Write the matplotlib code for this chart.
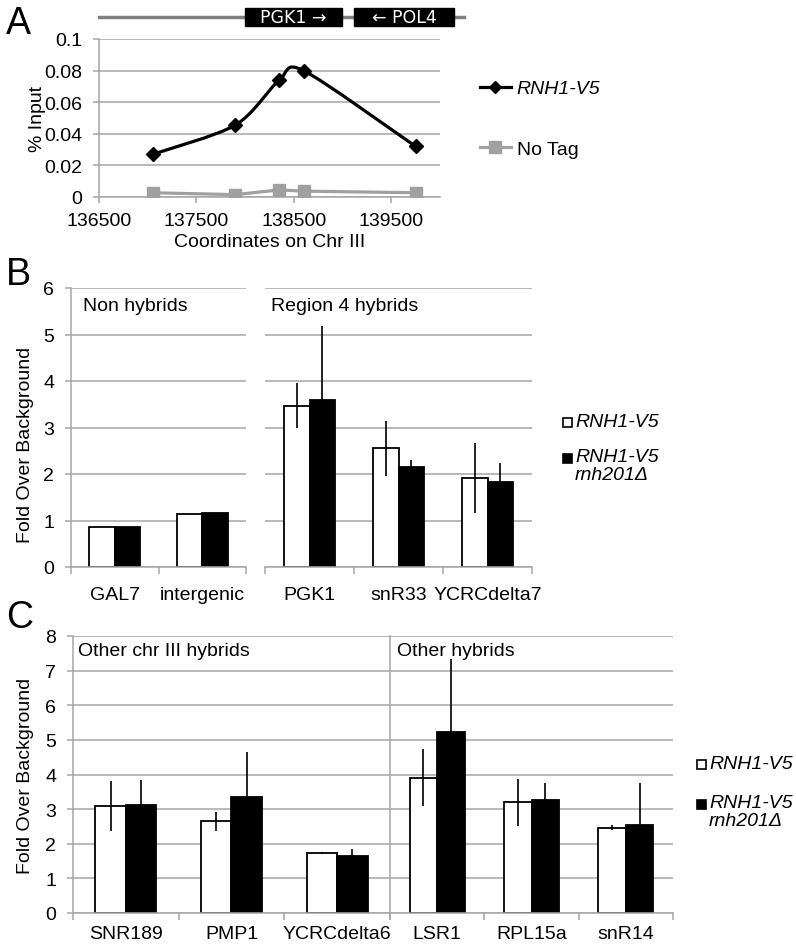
import numpy as np
import matplotlib
matplotlib.use('Agg')
import matplotlib.pyplot as plt
from matplotlib.path import Path
from matplotlib.patches import PathPatch, Rectangle
from matplotlib.lines import Line2D
from matplotlib.transforms import blended_transform_factory

plt.rcParams['font.family'] = ['Liberation Sans', 'DejaVu Sans']
plt.rcParams['font.size'] = 14

# ---- panel A data
coords = [137050, 137900, 138350, 138600, 139750]
rnh1_v5 = [0.027, 0.0455, 0.074, 0.080, 0.032]
no_tag = [0.0027, 0.0015, 0.0045, 0.0037, 0.0027]
genes = [('PGK1 \u2192', 138000, 138990), ('\u2190 POL4', 139120, 140140)]
track = [136500, 140250]

# ---- panel B data
non_cats = ['GAL7', 'intergenic']
non_wt = [0.85, 1.15]
non_wt_err = [0.0, 0.0]
non_mut = [0.86, 1.16]
non_mut_err = [0.0, 0.0]

reg4_cats = ['PGK1', 'snR33', 'YCRCdelta7']
reg4_wt = [3.47, 2.55, 1.91]
reg4_wt_err = [0.48, 0.60, 0.75]
reg4_mut = [3.59, 2.15, 1.82]
reg4_mut_err = [1.59, 0.16, 0.41]

# ---- panel C data
chr3_cats = ['SNR189', 'PMP1', 'YCRCdelta6']
chr3_wt = [3.08, 2.65, 1.73]
chr3_wt_err = [0.72, 0.28, 0.04]
chr3_mut = [3.13, 3.34, 1.65]
chr3_mut_err = [0.72, 1.32, 0.21]

other_cats = ['LSR1', 'RPL15a', 'snR14']
other_wt = [3.91, 3.20, 2.46]
other_wt_err = [0.82, 0.68, 0.07]
other_mut = [5.24, 3.25, 2.54]
other_mut_err = [2.09, 0.51, 1.21]

W, H = 796, 945
GRID = '#a6a6a6'
fig = plt.figure(figsize=(W / 100, H / 100), dpi=100)


def box(x0, y0, x1, y1):
    # pixel box (top-left origin) -> figure fraction rect
    return [x0 / W, 1 - y1 / H, (x1 - x0) / W, (y1 - y0) / H]


def smooth_path(xs, ys, k=6.0):
    # catmull-rom style bezier through the points (like excel smoothed lines)
    pts = np.column_stack([xs, ys]).astype(float)
    verts = [pts[0]]
    codes = [Path.MOVETO]
    n = len(pts)
    for i in range(n - 1):
        p0 = pts[i - 1] if i > 0 else pts[i]
        p1, p2 = pts[i], pts[i + 1]
        p3 = pts[i + 2] if i + 2 < n else pts[i + 1]
        verts += [p1 + (p2 - p0) / k, p2 - (p3 - p1) / k, p2]
        codes += [Path.CURVE4] * 3
    return Path(verts, codes)


def style_axis(ax, ymax, left_spine=True):
    ax.set_ylim(0, ymax)
    ax.set_yticks(range(0, ymax + 1))
    ax.yaxis.grid(True, color=GRID, lw=1.1)
    ax.set_axisbelow(True)
    for s in ['top', 'right']:
        ax.spines[s].set_visible(False)
    ax.spines['bottom'].set_color(GRID)
    ax.spines['bottom'].set_linewidth(1.1)
    if left_spine:
        ax.spines['left'].set_color(GRID)
        ax.spines['left'].set_linewidth(1.1)
        ax.tick_params(axis='y', color=GRID, length=4, width=1.1, pad=8)
    else:
        ax.spines['left'].set_visible(False)
        ax.tick_params(axis='y', left=False, labelleft=False)


def bar_group(ax, cats, wt, wt_err, mut, mut_err, ymax, title, left_spine, title_x, title_y, pad):
    x = np.arange(len(cats))
    w = 0.29
    ax.bar(x - w / 2, wt, w, color='white', edgecolor='black', lw=1.3, zorder=2)
    ax.bar(x + w / 2, mut, w, color='black', edgecolor='black', lw=1.3, zorder=2)
    ax.errorbar(x - w / 2, wt, yerr=wt_err, fmt='none', ecolor='black', elinewidth=1.2, capsize=0, zorder=3)
    ax.errorbar(x + w / 2, mut, yerr=mut_err, fmt='none', ecolor='black', elinewidth=1.2, capsize=0, zorder=3)
    ax.set_xlim(-0.5, len(cats) - 0.5)
    style_axis(ax, ymax, left_spine)
    ax.set_xticks(x)
    ax.set_xticklabels(cats)
    ax.tick_params(axis='x', which='major', length=0, pad=pad)
    ax.set_xticks(np.arange(len(cats) + 1) - 0.5, minor=True)
    ax.tick_params(axis='x', which='minor', length=5, color=GRID, width=1.1)
    tt = blended_transform_factory(ax.transAxes, ax.transData)
    ax.text(title_x, title_y, title, transform=tt, ha='left', va='center', fontsize=14)


# ================= panel A
axA = fig.add_axes(box(99, 40, 440, 198))
axA.plot(coords, no_tag, color='#a0a0a0', lw=2.3, marker='s', ms=9, zorder=3)
axA.add_patch(PathPatch(smooth_path(coords, rnh1_v5, 7.0), fill=False, ec='black', lw=2.3, zorder=4))
axA.plot(coords, rnh1_v5, ls='none', marker='D', color='black', ms=7, zorder=5)
axA.set_xlim(136500, 140000)
axA.set_ylim(0, 0.1)
axA.set_xticks([136500, 137500, 138500, 139500])
axA.set_yticks([0, 0.02, 0.04, 0.06, 0.08, 0.1])
axA.set_yticklabels(['0', '0.02', '0.04', '0.06', '0.08', '0.1'])
axA.yaxis.grid(True, color=GRID, lw=1.1)
axA.set_axisbelow(True)
for s in ['top', 'right']:
    axA.spines[s].set_visible(False)
for s in ['left', 'bottom']:
    axA.spines[s].set_color(GRID)
    axA.spines[s].set_linewidth(1.1)
axA.tick_params(color=GRID, length=4, width=1.1)
axA.tick_params(axis='x', pad=7)
axA.tick_params(axis='y', pad=8)
axA.set_xlabel('Coordinates on Chr III', fontsize=14, labelpad=3)
axA.set_ylabel('% Input', fontsize=14, labelpad=-1)

h1 = Line2D([], [], color='black', lw=2.3, marker='D', ms=6)
h2 = Line2D([], [], color='#a0a0a0', lw=2.3, marker='s', ms=8)
axA.legend([h1, h2], ['RNH1-V5', 'No Tag'], loc='upper left', bbox_to_anchor=(470 / W, 1 - 71 / H),
           bbox_transform=fig.transFigure, frameon=False, handlelength=1.6, handletextpad=0.3,
           labelspacing=2.2, borderpad=0, fontsize=14)
leg = axA.get_legend()
leg.get_texts()[0].set_style('italic')

# gene track above panel A
tr = blended_transform_factory(axA.transData, fig.transFigure)
axA.plot(track, [1 - 18 / H] * 2, color='#808080', lw=2.5, transform=tr, clip_on=False, zorder=1)
for name, g0, g1 in genes:
    axA.add_patch(Rectangle((g0, 1 - 27 / H), g1 - g0, 18 / H, transform=tr, clip_on=False,
                            fc='black', ec='black', zorder=2))
    axA.text((g0 + g1) / 2, 1 - 18 / H, name, transform=tr, color='white', ha='center', va='center',
             fontsize=12.5, family=['DejaVu Sans'], clip_on=False)

# ================= panel B
axB1 = fig.add_axes(box(71, 289, 246, 568))
axB2 = fig.add_axes(box(265, 289, 532, 568))
bar_group(axB1, non_cats, non_wt, non_wt_err, non_mut, non_mut_err, 6, 'Non hybrids', True, 0.07, 5.62, 14)
bar_group(axB2, reg4_cats, reg4_wt, reg4_wt_err, reg4_mut, reg4_mut_err, 6, 'Region 4 hybrids', False, 0.024, 5.62, 14)
fig.text(26 / W, 1 - 445 / H, 'Fold Over Background', rotation=90, ha='center', va='center', fontsize=14)

# ================= panel C
axC1 = fig.add_axes(box(73, 637, 390, 914))
axC2 = fig.add_axes(box(390, 637, 673, 914))
bar_group(axC1, chr3_cats, chr3_wt, chr3_wt_err, chr3_mut, chr3_mut_err, 8, 'Other chr III hybrids', True, 0.015, 7.57, 8.5)
bar_group(axC2, other_cats, other_wt, other_wt_err, other_mut, other_mut_err, 8, 'Other hybrids', True, 0.025, 7.57, 8.5)
axC2.tick_params(axis='y', left=False, labelleft=False)
fig.text(26 / W, 1 - 776 / H, 'Fold Over Background', rotation=90, ha='center', va='center', fontsize=14)

# legends for B and C
for sq_x, y1, y2 in [(563, 423, 459), (697, 765, 805)]:
    fig.patches.append(Rectangle((sq_x / W, 1 - (y1 + 4.5) / H), 9 / W, 9 / H, transform=fig.transFigure,
                                 fc='white', ec='black', lw=1.2))
    fig.patches.append(Rectangle((sq_x / W, 1 - (y2 + 4.5) / H), 9 / W, 9 / H, transform=fig.transFigure,
                                 fc='black', ec='black', lw=1.2))
    fig.text((sq_x + 12) / W, 1 - y1 / H, 'RNH1-V5', style='italic', ha='left', va='center', fontsize=14)
    fig.text((sq_x + 12) / W, 1 - (y2 - 10) / H, 'RNH1-V5\nrnh201\u0394', style='italic', ha='left', va='top',
             fontsize=14, linespacing=1.05)

# panel letters
fig.text(6 / W, 1 - 34 / H, 'A', fontsize=27, ha='left', va='baseline')
fig.text(6 / W, 1 - 285 / H, 'B', fontsize=27, ha='left', va='baseline')
fig.text(6 / W, 1 - 628 / H, 'C', fontsize=27, ha='left', va='baseline')

fig.savefig('out.png', dpi=100)
